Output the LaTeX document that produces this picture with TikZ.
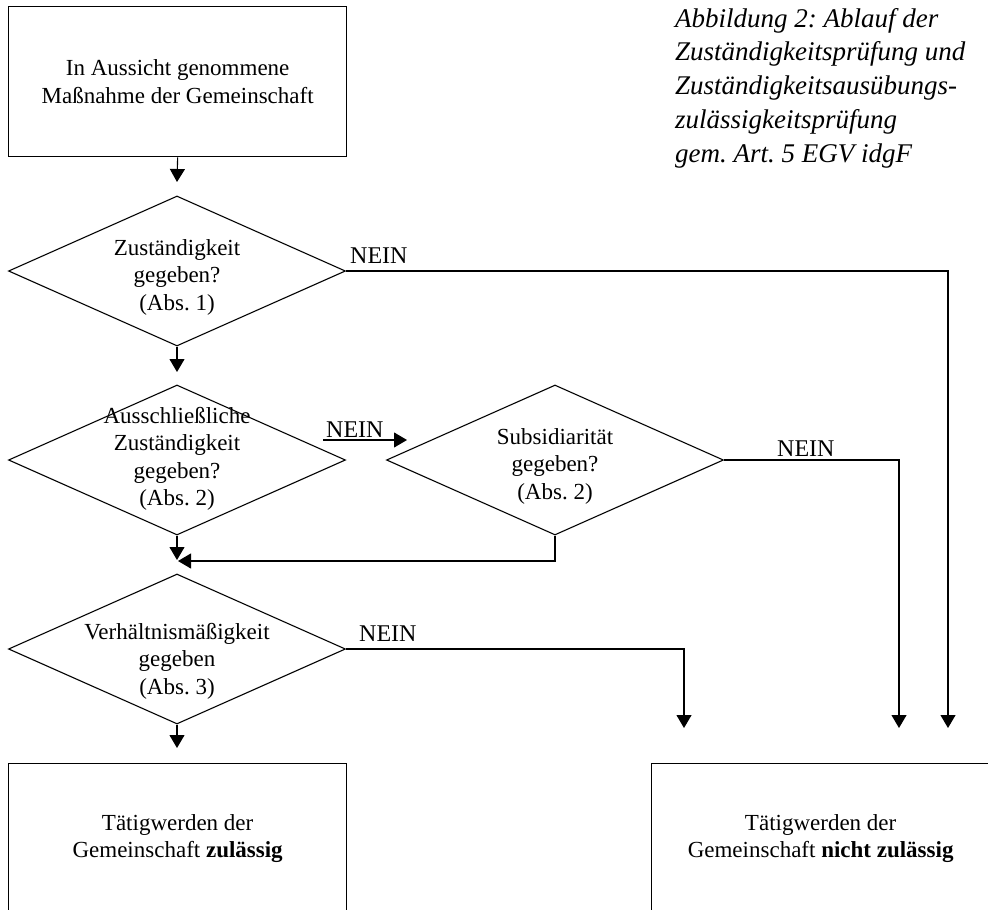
\documentclass[tikz,border=0pt]{standalone}
\usepackage{fontspec}
\setmainfont{Liberation Serif}
\usetikzlibrary{shapes.geometric,arrows.meta}
\frenchspacing

\tikzset{
  box/.style={draw, line width=1.3pt, rectangle, minimum width=338pt,
    minimum height=150pt, inner sep=0pt, anchor=north west, align=center,
    font=\fontsize{23}{27.5}\selectfont},
  dia/.style={draw, line width=1.1pt, diamond, minimum width=337pt,
    minimum height=150pt, inner sep=0pt},
  txt/.style={align=center, font=\fontsize{23}{27.5}\selectfont, inner sep=0pt},
  nein/.style={font=\fontsize{24}{28}\selectfont, inner sep=0pt, anchor=base west},
  flow/.style={-{Triangle[width=15pt,length=13pt]}, line width=1.1pt},
  caption/.style={align=left, inner sep=0pt, anchor=north west,
    font=\itshape\fontsize{27}{33.7}\selectfont},
}

\begin{document}
\begin{tikzpicture}[x=1pt, y=-1pt]
  \useasboundingbox (0,0) rectangle (988,910);
  \clip (0,0) rectangle (988,910);

  % caption
  \node[caption] (cap) at (675,8) {Abbildung 2: Ablauf der\\Zuständigkeitsprüfung und\\Zuständigkeitsausübungs-\\zulässigkeitsprüfung\\gem. Art. 5 EGV idgF};

  % boxes
  \node[box] (start) at (8,6) {In Aussicht genommene\\Maßnahme der Gemeinschaft};
  \node[box] (yes) at (8,763) {Tätigwerden der\\Gemeinschaft \textbf{zulässig}};
  \node[box] (no) at (651,763) {Tätigwerden der\\Gemeinschaft \textbf{nicht zulässig}};

  % decisions
  \node[dia] (d1) at (177,271) {};
  \node[txt] (t1) at (177,277) {Zuständigkeit\\gegeben?\\(Abs. 1)};
  \node[dia] (d2) at (177,460) {};
  \node[txt] (t2) at (177,459) {Ausschließliche\\Zuständigkeit\\gegeben?\\(Abs. 2)};
  \node[dia] (d3) at (555,460) {};
  \node[txt] (t3) at (555,466) {Subsidiarität\\gegeben?\\(Abs. 2)};
  \node[dia] (d4) at (177,649) {};
  \node[txt] (t4) at (177,661) {Verhältnismäßigkeit\\gegeben\\(Abs. 3)};

  % arrow ends
  \coordinate (e0) at (177,182);
  \coordinate (e1) at (177,372);
  \coordinate (e2) at (177,560);
  \coordinate (e3) at (178,561);
  \coordinate (e4) at (177,748);
  \coordinate (r1) at (948,728);
  \coordinate (r2) at (899,728);
  \coordinate (r3) at (684,728);
  \coordinate (ns) at (323,440);
  \coordinate (ne) at (407,440);

  % main flow
  \draw[flow] (start.south) -- (e0);
  \draw[flow] (d1.south) -- (e1);
  \draw[flow] (d2.south) -- (e2);
  \draw[flow] (d3.south) |- (e3);
  \draw[flow] (d4.south) -- (e4);

  % negative branches
  \draw[flow] (d1.east) -| (r1);
  \draw[flow] (d3.east) -| (r2);
  \draw[flow] (d4.east) -| (r3);
  \draw[flow] (ns) -- (ne);

  \node[nein] (n1) at (350,263) {NEIN};
  \node[nein] (n2) at (326,437) {NEIN};
  \node[nein] (n3) at (777,456) {NEIN};
  \node[nein] (n4) at (359,641) {NEIN};
\end{tikzpicture}
\end{document}
